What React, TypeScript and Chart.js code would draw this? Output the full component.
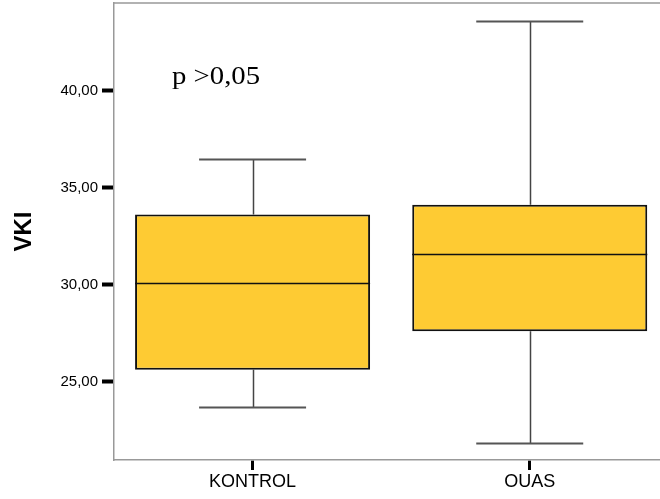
import React, { useEffect, useRef } from "react";
import { Chart, registerables } from "chart.js";

Chart.register(...registerables);

const categories = ["KONTROL", "OUAS"];
const whiskerLow = [23.66, 21.84];
const q1 = [25.6, 27.59];
const medians = [30.1, 31.57];
const q3 = [33.61, 34.11];
const whiskerHigh = [36.48, 43.6];
const yTickValues = [25, 30, 35, 40];
const annotationText = "p >0,05";

const boxPlugin = {
  id: "boxExtras",
  beforeDatasetsDraw(chart: any) {
    const ctx = chart.ctx;
    const xs = chart.scales.x;
    const ys = chart.scales.y;
    ctx.save();
    categories.forEach((_, i) => {
      const x = Math.round(xs.getPixelForValue(i)) + 0.5;
      const capL = xs.getPixelForValue(i - 0.193);
      const capR = xs.getPixelForValue(i + 0.193);
      const yHi = Math.round(ys.getPixelForValue(whiskerHigh[i])) + 0.5;
      const yLo = Math.round(ys.getPixelForValue(whiskerLow[i])) + 0.5;
      ctx.strokeStyle = "#444";
      ctx.lineWidth = 1.5;
      ctx.beginPath();
      ctx.moveTo(x, yHi);
      ctx.lineTo(x, ys.getPixelForValue(q3[i]));
      ctx.moveTo(x, ys.getPixelForValue(q1[i]));
      ctx.lineTo(x, yLo);
      ctx.stroke();
      ctx.strokeStyle = "#555";
      ctx.lineWidth = 2;
      ctx.beginPath();
      ctx.moveTo(capL, yHi);
      ctx.lineTo(capR, yHi);
      ctx.moveTo(capL, yLo);
      ctx.lineTo(capR, yLo);
      ctx.stroke();
    });
    ctx.restore();
  },
  afterDatasetsDraw(chart: any) {
    const ctx = chart.ctx;
    const ys = chart.scales.y;
    const meta = chart.getDatasetMeta(0);
    ctx.save();
    ctx.strokeStyle = "#111";
    ctx.lineWidth = 1.5;
    meta.data.forEach((el: any, i: number) => {
      const y = Math.round(ys.getPixelForValue(medians[i])) + 0.5;
      ctx.beginPath();
      ctx.moveTo(el.x - el.width / 2, y);
      ctx.lineTo(el.x + el.width / 2, y);
      ctx.stroke();
    });
    ctx.restore();
  },
  afterDraw(chart: any) {
    const ctx = chart.ctx;
    const a = chart.chartArea;
    ctx.save();
    ctx.strokeStyle = "#999";
    ctx.lineWidth = 1.5;
    ctx.beginPath();
    ctx.moveTo(a.left, a.top);
    ctx.lineTo(a.right, a.top);
    ctx.stroke();
    ctx.fillStyle = "#000";
    ctx.font = "25px 'Liberation Serif', 'Times New Roman', serif";
    ctx.textBaseline = "alphabetic";
    ctx.translate(172, 84);
    ctx.scale(1.15, 1);
    ctx.fillText(annotationText, 0, 0);
    ctx.restore();
  },
};

export default function App() {
  const ref = useRef<HTMLCanvasElement | null>(null);
  useEffect(() => {
    if (!ref.current) return;
    const chart = new Chart(ref.current, {
      type: "bar",
      data: {
        datasets: [
          {
            data: categories.map((_, i) => ({ x: i, y: [q1[i], q3[i]] })) as any,
            backgroundColor: "#FECB33",
            borderColor: "#111",
            borderWidth: 2,
            borderSkipped: false,
            categoryPercentage: 1,
            barPercentage: 0.848,
          },
        ],
      },
      options: {
        animation: false,
        responsive: true,
        maintainAspectRatio: false,
        layout: { padding: { top: 3, left: 0, right: 0, bottom: 0 } },
        plugins: { legend: { display: false }, tooltip: { enabled: false } },
        scales: {
          x: {
            type: "linear",
            offset: false,
            min: -0.5,
            max: 1.47,
            afterBuildTicks: (s: any) => {
              s.ticks = categories.map((_, i) => ({ value: i }));
            },
            afterFit: (s: any) => {
              s.height = 39;
              s.paddingLeft = 0;
              s.paddingRight = 0;
            },
            ticks: {
              callback: (v: any) => categories[Math.round(Number(v))] ?? "",
              color: "#000",
              font: { family: "'Liberation Sans', Arial, sans-serif", size: 18 },
              padding: 1,
              maxRotation: 0,
              autoSkip: false,
            },
            grid: {
              display: true,
              offset: false,
              drawOnChartArea: false,
              tickLength: 10,
              tickWidth: 3,
              tickColor: "#000",
            },
            border: { color: "#999", width: 1.5 },
          },
          y: {
            type: "linear",
            min: 20.95,
            max: 44.52,
            afterBuildTicks: (s: any) => {
              s.ticks = yTickValues.map((v) => ({ value: v }));
            },
            afterFit: (s: any) => {
              s.width = 114;
              s.paddingTop = 0;
              s.paddingBottom = 0;
            },
            ticks: {
              callback: (v: any) => Number(v).toFixed(2).replace(".", ","),
              color: "#000",
              font: { family: "'Liberation Sans', Arial, sans-serif", size: 15 },
              padding: 4,
            },
            grid: {
              display: true,
              drawOnChartArea: false,
              tickLength: 12,
              tickWidth: 4,
              tickColor: "#000",
            },
            border: { color: "#999", width: 1.5 },
            title: {
              display: true,
              text: "VKI",
              color: "#000",
              font: { family: "'Liberation Sans', Arial, sans-serif", size: 24, weight: "bold" },
              padding: { top: 10, bottom: 0 },
            },
          },
        },
      },
      plugins: [boxPlugin],
    });
    return () => chart.destroy();
  }, []);
  return (
    <div style={{ position: "absolute", left: 0, top: 0, width: 660, height: 499, background: "#fff" }}>
      <canvas ref={ref} />
    </div>
  );
}
